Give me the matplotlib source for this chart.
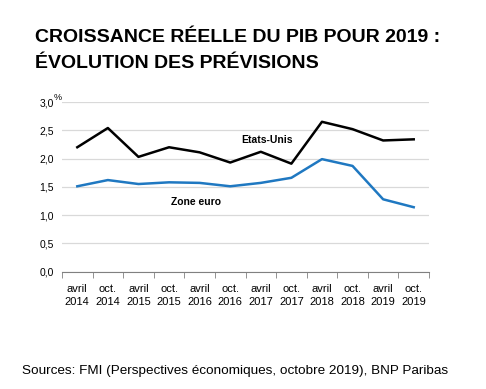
import matplotlib
matplotlib.use("Agg")
from matplotlib import pyplot as plt

# previsions de croissance 2019 (%)
periodes = ["avril\n2014", "oct.\n2014", "avril\n2015", "oct.\n2015", "avril\n2016", "oct.\n2016",
            "avril\n2017", "oct.\n2017", "avril\n2018", "oct.\n2018", "avril\n2019", "oct.\n2019"]
etats_unis = [2.20, 2.54, 2.03, 2.20, 2.11, 1.93, 2.12, 1.91, 2.65, 2.52, 2.32, 2.34]
zone_euro = [1.51, 1.62, 1.55, 1.58, 1.57, 1.51, 1.57, 1.66, 1.99, 1.87, 1.28, 1.14]
yticks = [0.0, 0.5, 1.0, 1.5, 2.0, 2.5, 3.0]

narrow = ['Liberation Sans Narrow', 'Liberation Sans', 'DejaVu Sans']
plt.rcParams['font.family'] = ['Liberation Sans', 'DejaVu Sans']

fig = plt.figure(figsize=(4.86, 3.89), dpi=100)
ax = fig.add_axes([62 / 486, 1 - 271.7 / 389, (429 - 62) / 486, (271.7 - 102) / 389])

x = list(range(len(periodes)))
ax.plot(x, etats_unis, color="black", lw=1.8)
ax.plot(x, zone_euro, color="#1f78c1", lw=1.8)

ax.set_xlim(-0.5, len(periodes) - 0.5)
ax.set_ylim(0, 3.0)
ax.set_yticks(yticks)
ax.set_yticklabels([f"{v:.1f}".replace(".", ",") for v in yticks], family=narrow, fontsize=7.5)
ax.yaxis.grid(True, color="#d9d9d9", lw=0.9)
ax.set_axisbelow(True)
ax.tick_params(axis="y", length=0, pad=6)

ax.set_xticks(x)
ax.set_xticklabels(periodes, family=narrow, fontsize=8, linespacing=1.3)
ax.set_xticks([i - 0.5 for i in range(len(periodes) + 1)], minor=True)
ax.tick_params(axis="x", which="major", length=0, pad=9)
ax.tick_params(axis="x", which="minor", length=4, color="#808080", direction="out")

for s in ["top", "right", "left"]:
    ax.spines[s].set_visible(False)
ax.spines["bottom"].set_color("#808080")

ax.text(-0.78, 3.0, "%", fontsize=6.5, family=narrow, ha="left", va="bottom")

ax.text(5.35, 2.33, "Etats-Unis", fontsize=7.5, family=narrow, fontweight="bold", ha="left", va="center")
ax.text(3.05, 1.23, "Zone euro", fontsize=7.5, family=narrow, fontweight="bold", ha="left", va="center")

fig.text(35 / 486, 1 - 41.7 / 389, "CROISSANCE RÉELLE DU PIB POUR 2019 :",
         fontsize=14, fontweight="bold", ha="left", va="baseline")
fig.text(35 / 486, 1 - 67.5 / 389, "ÉVOLUTION DES PRÉVISIONS",
         fontsize=14, fontweight="bold", ha="left", va="baseline")
fig.text(22 / 486, 1 - 371 / 389, "Sources: FMI (Perspectives économiques, octobre 2019), BNP Paribas",
         fontsize=9.7, ha="left", va="center")

fig.savefig("out.png", dpi=100)
